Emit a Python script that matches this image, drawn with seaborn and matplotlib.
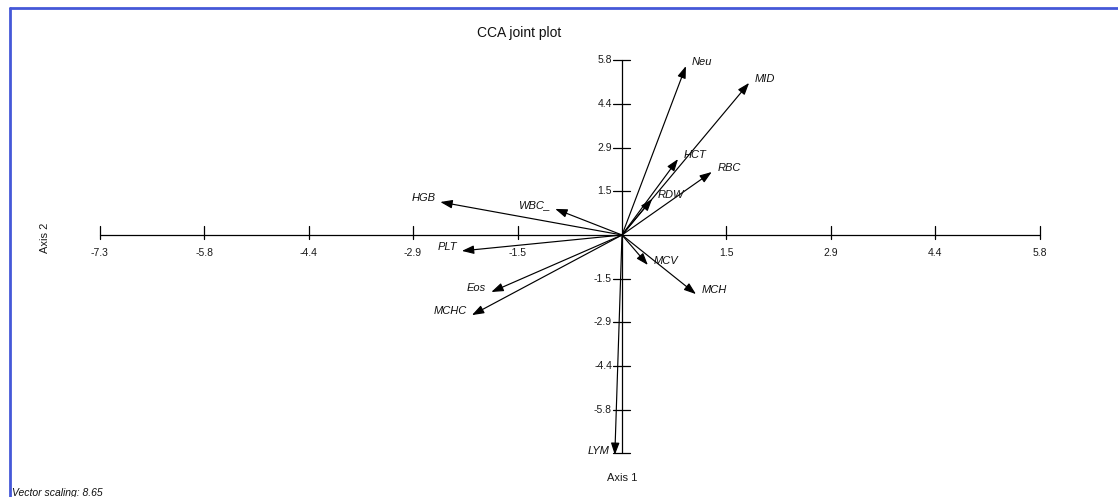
import matplotlib
matplotlib.use("Agg")
import matplotlib.pyplot as plt
import seaborn as sns
import pandas as pd

# ---------------- data ----------------
variables = ["Neu", "MID", "HCT", "RBC", "RDW", "HGB", "WBC_", "PLT",
             "Eos", "MCHC", "MCV", "MCH", "LYM"]
axis1_scores = [0.89, 1.77, 0.78, 1.25, 0.42, -2.53, -0.93, -2.23,
                -1.82, -2.09, 0.36, 1.03, -0.10]
axis2_scores = [5.63, 5.07, 2.53, 2.10, 1.20, 1.10, 0.87, -0.53,
                -1.90, -2.67, -1.00, -1.97, -7.33]

tick_step = 1.455
x_tick_index = [-5, -4, -3, -2, -1, 1, 2, 3, 4]
x_tick_labels = ["-7.3", "-5.8", "-4.4", "-2.9", "-1.5", "1.5", "2.9", "4.4", "5.8"]
y_tick_index = [-5, -4, -3, -2, -1, 1, 2, 3, 4]
y_tick_labels = ["-7.3", "-5.8", "-4.4", "-2.9", "-1.5", "1.5", "2.9", "4.4", "5.8"]

title = "CCA joint plot"
xlabel = "Axis 1"
ylabel = "Axis 2"
footnote = "Vector scaling: 8.65"

df = pd.DataFrame({"variable": variables, "ax1": axis1_scores, "ax2": axis2_scores})

# ---------------- style ----------------
sns.set_theme(style="white")
plt.rcParams["font.family"] = ["Liberation Sans", "DejaVu Sans"]

W, H = 1118, 497
fig = plt.figure(figsize=(W / 100, H / 100), dpi=100)
ax = fig.add_axes([0, 0, 1, 1])
ox, oy = 622, 235          # origin pixel
sx, sy = 71.8, 30.0        # px per unit
ax.set_xlim(-ox / sx, (W - ox) / sx)
ax.set_ylim((oy - H) / sy, oy / sy)
ax.axis("off")

# frame (blue border, left & top)
fig.add_artist(plt.Line2D([10 / W, 10 / W], [0, 1 - 8 / H], color="#4558d8", lw=2.0,
                          transform=fig.transFigure))
fig.add_artist(plt.Line2D([10 / W, 1], [1 - 8 / H, 1 - 8 / H], color="#4558d8", lw=2.0,
                          transform=fig.transFigure))

lo = x_tick_index[0] * tick_step
hi = x_tick_index[-1] * tick_step
# axes through origin
ax.plot([lo, hi], [0, 0], color="black", lw=0.9)
ax.plot([0, 0], [y_tick_index[0] * tick_step, y_tick_index[-1] * tick_step], color="black", lw=0.9)

for i, lab in zip(x_tick_index, x_tick_labels):
    xv = i * tick_step
    ax.plot([xv, xv], [-3.5 / sy, 9 / sy], color="black", lw=0.9)
    ax.annotate(lab, (xv, 0), xytext=(0, -18), textcoords="offset pixels",
                ha="center", va="center", fontsize=7.5, color="#1a1a1a")
for i, lab in zip(y_tick_index, y_tick_labels):
    yv = i * tick_step
    ax.plot([-9 / sx, 8 / sx], [yv, yv], color="black", lw=0.9)
    if i != y_tick_index[0]:
        ax.annotate(lab, (0, yv), xytext=(-10, 0), textcoords="offset pixels",
                    ha="right", va="center", fontsize=7.5, color="#1a1a1a")

# arrows
for _, r in df.iterrows():
    ax.annotate("", xy=(r.ax1, r.ax2), xytext=(0, 0),
                arrowprops=dict(arrowstyle="-|>,head_length=0.45,head_width=0.16",
                                mutation_scale=16, lw=0.85, color="black",
                                shrinkA=0, shrinkB=0))
    right = r.ax1 >= 0
    ax.annotate(r.variable, (r.ax1, r.ax2), xytext=(6 if right else -5, 4),
                textcoords="offset pixels", ha="left" if right else "right",
                va="center", fontsize=8, style="italic", color="#111111")

# texts
fig.text(519 / W, 1 - 33 / H, title, ha="center", va="center", fontsize=10, color="#111111")
fig.text(622 / W, 1 - 478 / H, xlabel, ha="center", va="center", fontsize=8, color="#1a1a1a")
fig.text(45 / W, 1 - 238 / H, ylabel, ha="center", va="center", rotation=90, fontsize=8,
         color="#1a1a1a")
fig.text(12 / W, 1 - 493 / H, footnote, ha="left", va="center", fontsize=7.5,
         style="italic", color="#111111")

fig.savefig("out.png", dpi=100)
